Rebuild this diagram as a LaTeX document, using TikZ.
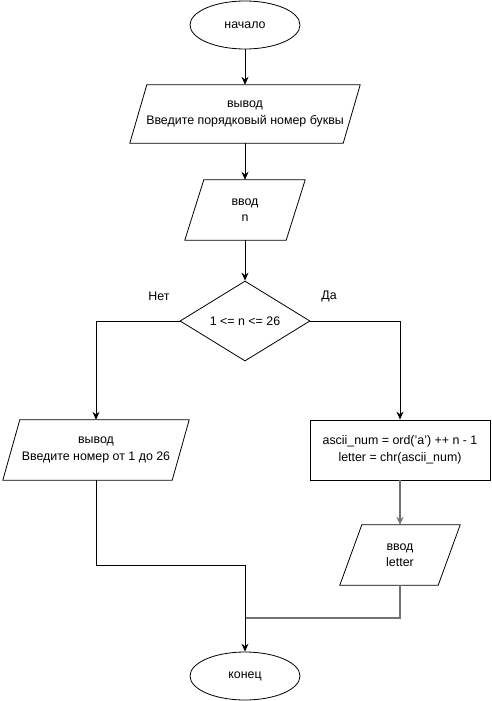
\documentclass[tikz,border=0pt]{standalone}
\usepackage{fontspec}
\setmainfont{Liberation Sans}
\usetikzlibrary{shapes.geometric,arrows.meta}
\begin{document}
\begin{tikzpicture}[x=1pt,y=-1pt,
  every node/.style={font=\fontsize{12.4}{16.5}\selectfont, align=center, inner sep=0pt},
  terminal/.style={ellipse, draw, line width=0.8pt, minimum width=110, minimum height=48},
  iobox/.style={rectangle, minimum width=#1, minimum height=60},
  process/.style={rectangle, draw, line width=0.8pt, minimum width=180, minimum height=60},
  decision/.style={diamond, draw, line width=0.8pt, aspect=1.625, minimum width=130, minimum height=80},
  flow/.style={line width=0.8pt, -{Stealth[length=8pt,width=7pt]}},
  flowgray/.style={line width=1.2pt, draw=black!55, -{Stealth[length=8pt,width=7pt,fill=black!80]}},
  link/.style={line width=0.8pt},
  linkgray/.style={line width=1.2pt, draw=black!55},
  border/.style={line width=0.8pt}
]
\useasboundingbox (0,0) rectangle (491,701);

% terminals, blocks and the decision
\node[terminal] (start) at (245,25) {начало};
\node[iobox=230, minimum height=58] (out1) at (245,114) {вывод\\Введите порядковый номер буквы};
\node[iobox=120] (in1) at (245,210) {ввод\\n};
\node[decision] (dec) at (245,321) {1 <= n <= 26};
\node[iobox=186] (outerr) at (96,450) {вывод\\Введите номер от 1 до 26};
\node[process] (calc) at (400,450) {ascii\_num = ord('a') ++ n - 1\\letter = chr(ascii\_num)};
\node[iobox=120] (in2) at (400,555) {ввод\\letter};
\node[terminal] (stop) at (245,676) {конец};

% parallelogram outlines of the input/output blocks
\foreach \n/\s in {out1/17, in1/19, outerr/17, in2/22}{
  \draw[border] ([xshift=\s]\n.north west) -- (\n.north east)
    -- ([xshift=-\s]\n.south east) -- (\n.south west) -- cycle;
}

% branch labels
\node (no) at (159,296) {Нет};
\node (yes) at (329,296) {Да};

% junction points above the final terminal
\coordinate (j1) at (245,565);
\coordinate (j2) at (245,618);

% connectors
\draw[flow] (start) -- (out1);
\draw[flow] (out1) -- (in1);
\draw[flow] (in1) -- (dec);
\draw[flow] (dec.west) -| (outerr.north);
\draw[flow] (dec.east) -| (calc.north);
\draw[flowgray] (calc) -- (in2);
\draw[link] (outerr.south) |- (j1);
\draw[linkgray] (in2.south) |- (j2);
\draw[flow] (j1) -- (stop);
\end{tikzpicture}
\end{document}
